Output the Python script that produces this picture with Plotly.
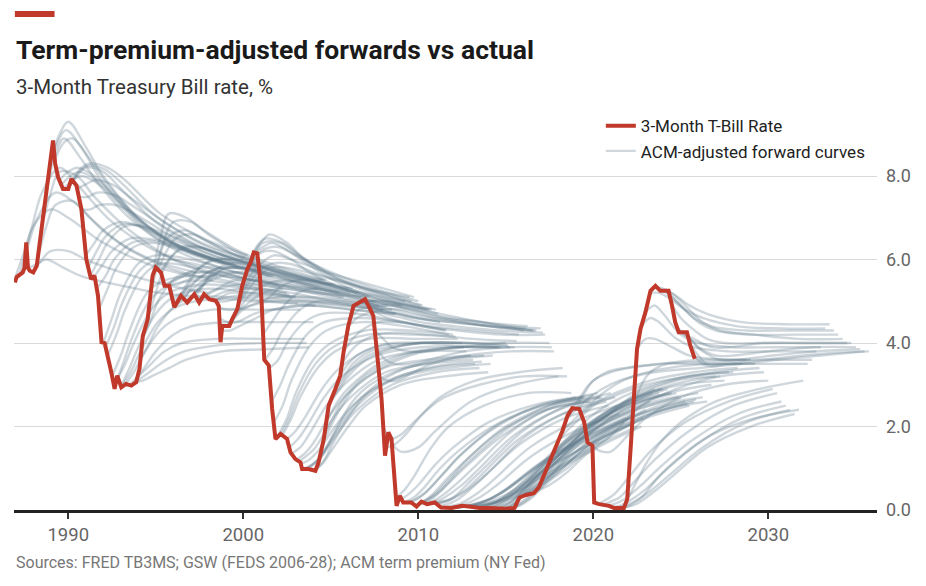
import plotly.graph_objects as go

# ------------------------------------------------------------
# data
# ------------------------------------------------------------

TBILL_DATE = [
    1986.95, 1987.05, 1987.4, 1987.5, 1987.6, 1987.7, 1987.8, 1988.0, 1988.2, 1988.55,
    1988.85, 1989.13, 1989.25, 1989.42, 1989.7, 1990.0, 1990.18, 1990.47, 1990.75, 1991.03,
    1991.3, 1991.5, 1991.7, 1991.9, 1992.08, 1992.26, 1992.46, 1992.65, 1992.8, 1993.03,
    1993.3, 1993.6, 1993.88, 1994.07, 1994.26, 1994.54, 1994.82, 1995.0, 1995.3, 1995.5,
    1995.77, 1996.06, 1996.44, 1996.8, 1997.2, 1997.48, 1997.76, 1998.05, 1998.43, 1998.6,
    1998.7, 1998.8, 1999.2, 1999.37, 1999.66, 1999.94, 2000.23, 2000.42, 2000.6, 2000.8,
    2000.95, 2001.05, 2001.2, 2001.46, 2001.65, 2001.84, 2002.13, 2002.5, 2002.7, 2002.98,
    2003.27, 2003.36, 2003.74, 2004.12, 2004.3, 2004.6, 2004.88, 2005.26, 2005.54, 2005.73,
    2006.0, 2006.3, 2006.68, 2006.96, 2007.25, 2007.43, 2007.62, 2007.9, 2008.1, 2008.29,
    2008.47, 2008.76, 2008.95, 2009.14, 2009.6, 2009.9, 2010.18, 2010.5, 2010.94, 2011.3,
    2011.9, 2012.5, 2013.0, 2013.5, 2014.0, 2014.5, 2015.0, 2015.5, 2015.78, 2016.16,
    2016.6, 2016.9, 2017.2, 2017.39, 2017.67, 2017.96, 2018.24, 2018.53, 2018.8, 2019.2,
    2019.48, 2019.67, 2019.95, 2020.05, 2020.33, 2020.9, 2021.18, 2021.75, 2021.94, 2022.13,
    2022.32, 2022.5, 2022.7, 2022.98, 2023.27, 2023.55, 2023.83, 2024.3, 2024.5, 2024.68,
    2024.88, 2025.35, 2025.54, 2025.8,
]
TBILL_RATE = [
    5.45, 5.58, 5.69, 5.8, 6.41, 5.8, 5.73, 5.69, 5.85, 6.97,
    7.85, 8.85, 8.3, 7.97, 7.69, 7.69, 7.93, 7.77, 7.21, 6.01,
    5.53, 5.61, 5.13, 4.02, 4.0, 3.7, 3.3, 2.9, 3.22, 2.94,
    3.02, 2.98, 3.06, 3.38, 4.17, 4.57, 5.61, 5.81, 5.69, 5.37,
    5.37, 4.86, 5.13, 4.97, 5.17, 4.97, 5.17, 5.05, 5.01, 4.89,
    4.02, 4.41, 4.41, 4.57, 4.81, 5.37, 5.77, 5.93, 6.17, 6.15,
    5.6, 4.97, 3.6, 3.46, 2.42, 1.7, 1.82, 1.7, 1.38, 1.22,
    1.14, 0.98, 0.98, 0.94, 1.14, 1.7, 2.5, 2.9, 3.22, 3.78,
    4.41, 4.89, 4.97, 5.05, 4.81, 4.65, 3.86, 2.66, 1.3, 1.86,
    1.7, 0.1, 0.34, 0.18, 0.18, 0.08, 0.2, 0.14, 0.18, 0.06,
    0.05, 0.1, 0.08, 0.05, 0.05, 0.03, 0.03, 0.05, 0.3, 0.36,
    0.4, 0.55, 0.85, 1.06, 1.3, 1.62, 1.9, 2.26, 2.44, 2.42,
    2.1, 1.62, 1.54, 0.18, 0.14, 0.1, 0.05, 0.05, 0.26, 1.46,
    2.9, 3.86, 4.34, 4.74, 5.25, 5.37, 5.25, 5.25, 4.89, 4.5,
    4.26, 4.26, 3.94, 3.62,
]

# forward curves: one start date each, values at the same horizons (years ahead)
FWD_HORIZON = [0, 0.5, 1, 2, 3, 5, 7.5, 10]
FWD_START = [
    1987.0, 1987.25, 1987.5, 1987.75, 1988.0, 1988.25, 1988.5, 1988.75,
    1989.0, 1989.25, 1989.5, 1989.75, 1990.0, 1990.25, 1990.5, 1990.75,
    1991.0, 1991.25, 1991.5, 1991.75, 1992.0, 1992.25, 1992.5, 1992.75,
    1993.0, 1993.25, 1993.5, 1993.75, 1994.0, 1994.25, 1994.5, 1994.75,
    1995.0, 1995.25, 1995.5, 1995.75, 1996.0, 1996.25, 1996.5, 1996.75,
    1997.0, 1997.25, 1997.5, 1997.75, 1998.0, 1998.25, 1998.5, 1998.75,
    1999.0, 1999.25, 1999.5, 1999.75, 2000.0, 2000.25, 2000.5, 2000.75,
    2001.0, 2001.25, 2001.5, 2001.75, 2002.0, 2002.25, 2002.5, 2002.75,
    2003.0, 2003.25, 2003.5, 2003.75, 2004.0, 2004.25, 2004.5, 2004.75,
    2005.0, 2005.25, 2005.5, 2005.75, 2006.0, 2006.25, 2006.5, 2006.75,
    2007.0, 2007.25, 2007.5, 2007.75, 2008.0, 2008.25, 2008.5, 2008.75,
    2009.0, 2009.25, 2009.5, 2009.75, 2010.0, 2010.25, 2010.5, 2010.75,
    2011.0, 2011.25, 2011.5, 2011.75, 2012.0, 2012.25, 2012.5, 2012.75,
    2013.0, 2013.25, 2013.5, 2013.75, 2014.0, 2014.25, 2014.5, 2014.75,
    2015.0, 2015.25, 2015.5, 2015.75, 2016.0, 2016.25, 2016.5, 2016.75,
    2017.0, 2017.25, 2017.5, 2017.75, 2018.0, 2018.25, 2018.5, 2018.75,
    2019.0, 2019.25, 2019.5, 2019.75, 2020.0, 2020.25, 2020.5, 2020.75,
    2021.0, 2021.25, 2021.5, 2021.75, 2022.0, 2022.25, 2022.5, 2022.75,
    2023.0, 2023.25, 2023.5, 2023.75, 2024.0, 2024.25, 2024.5, 2024.75,
    2025.0, 2025.25, 2025.5, 2025.75,
    # extra curves where the bundle is densest
    2009.375, 2009.875, 2010.375, 2010.875, 2011.375, 2011.875, 2012.375,
    2012.875, 2013.375, 2013.875, 2014.375, 2014.875, 2015.375, 2015.875,
    1995.125, 1995.625, 1996.125, 1996.625, 1997.125, 1997.625, 1998.125,
    1998.625, 1999.125, 1999.625, 2000.125, 2000.625, 2001.125, 2001.625,
    2002.125, 2002.625, 2003.125, 2003.625, 2004.125, 2004.625, 2005.125,
    2005.625, 2006.125, 2006.625, 2007.125, 2007.625,
    1988.875, 1989.625, 1990.125, 1990.625, 1991.125, 1991.625, 1992.125,
    1992.625, 1993.125, 1993.625, 1994.125, 1994.625,
]
FWD_VALUES = [
    [5.6, 6.2, 6.8, 7.2, 7.0, 6.4, 5.9, 5.6],
    [5.7, 6.4, 7.0, 7.6, 7.4, 6.6, 6.0, 5.7],
    [6.1, 6.9, 7.6, 8.2, 7.8, 6.9, 6.2, 5.8],
    [5.8, 5.9, 6.0, 5.8, 5.6, 5.4, 5.2, 5.1],
    [5.7, 6.0, 6.2, 6.2, 6.0, 5.7, 5.4, 5.2],
    [6.0, 6.8, 7.3, 7.4, 7.0, 6.3, 5.8, 5.5],
    [6.8, 7.6, 8.1, 8.0, 7.5, 6.7, 6.0, 5.6],
    [7.6, 8.5, 8.9, 8.4, 7.8, 6.9, 6.2, 5.8],
    [8.4, 9.0, 9.3, 8.7, 8.0, 7.0, 6.3, 5.9],
    [8.4, 8.8, 8.9, 8.4, 7.8, 6.9, 6.2, 5.9],
    [7.9, 8.1, 8.2, 8.0, 7.6, 6.8, 6.2, 5.9],
    [7.7, 7.9, 8.0, 7.8, 7.4, 6.6, 6.1, 5.8],
    [7.7, 8.0, 8.2, 8.1, 7.7, 6.9, 6.3, 6.0],
    [7.9, 8.2, 8.3, 8.2, 7.9, 7.1, 6.5, 6.1],
    [7.7, 7.8, 7.9, 7.8, 7.5, 6.9, 6.3, 6.0],
    [7.2, 7.2, 7.3, 7.3, 7.1, 6.6, 6.1, 5.8],
    [6.1, 6.4, 6.7, 6.9, 6.8, 6.4, 6.0, 5.7],
    [5.6, 6.0, 6.4, 6.8, 6.8, 6.5, 6.1, 5.8],
    [5.6, 5.9, 6.2, 6.5, 6.5, 6.3, 5.9, 5.6],
    [4.8, 5.3, 5.8, 6.3, 6.4, 6.2, 5.9, 5.6],
    [4.0, 4.6, 5.2, 5.9, 6.1, 6.0, 5.7, 5.4],
    [3.7, 4.2, 4.8, 5.6, 5.9, 5.8, 5.5, 5.3],
    [3.2, 3.7, 4.3, 5.2, 5.5, 5.6, 5.4, 5.2],
    [3.1, 3.5, 4.0, 4.8, 5.2, 5.4, 5.3, 5.1],
    [2.95, 3.4, 3.9, 4.7, 5.1, 5.3, 5.2, 5.1],
    [3.0, 3.3, 3.7, 4.3, 4.6, 4.8, 4.8, 4.8],
    [3.0, 3.2, 3.4, 3.8, 4.0, 4.1, 4.1, 4.1],
    [3.05, 3.1, 3.2, 3.4, 3.6, 3.8, 3.85, 3.9],
    [3.2, 3.5, 3.8, 4.2, 4.4, 4.5, 4.5, 4.5],
    [4.1, 4.6, 5.1, 5.6, 5.7, 5.6, 5.4, 5.3],
    [4.5, 5.2, 5.8, 6.3, 6.3, 6.0, 5.7, 5.5],
    [5.5, 6.5, 7.1, 7.0, 6.7, 6.2, 5.8, 5.5],
    [5.8, 6.5, 6.9, 6.9, 6.6, 6.1, 5.7, 5.4],
    [5.7, 6.0, 6.2, 6.3, 6.2, 5.9, 5.6, 5.4],
    [5.4, 5.5, 5.6, 5.8, 5.8, 5.6, 5.4, 5.2],
    [5.4, 5.4, 5.5, 5.6, 5.6, 5.5, 5.3, 5.1],
    [5.0, 5.2, 5.4, 5.7, 5.8, 5.7, 5.5, 5.3],
    [5.0, 5.4, 5.7, 6.0, 6.0, 5.8, 5.5, 5.3],
    [5.1, 5.5, 5.8, 6.0, 6.0, 5.8, 5.5, 5.2],
    [5.0, 5.2, 5.4, 5.6, 5.7, 5.6, 5.3, 5.1],
    [5.1, 5.3, 5.5, 5.8, 5.8, 5.6, 5.3, 5.1],
    [5.1, 5.4, 5.7, 5.9, 5.9, 5.7, 5.4, 5.1],
    [5.0, 5.2, 5.3, 5.5, 5.5, 5.4, 5.2, 5.0],
    [5.1, 5.1, 5.2, 5.3, 5.3, 5.2, 5.0, 4.9],
    [5.05, 5.0, 5.0, 5.1, 5.1, 5.0, 4.9, 4.8],
    [5.0, 5.1, 5.2, 5.2, 5.2, 5.1, 5.0, 4.9],
    [4.9, 4.8, 4.8, 4.9, 5.0, 5.0, 4.9, 4.8],
    [4.3, 4.3, 4.4, 4.6, 4.8, 4.9, 4.8, 4.7],
    [4.4, 4.6, 4.8, 5.0, 5.1, 5.1, 5.0, 4.9],
    [4.5, 4.8, 5.1, 5.4, 5.5, 5.4, 5.2, 5.0],
    [4.7, 5.1, 5.4, 5.8, 5.8, 5.6, 5.3, 5.1],
    [5.0, 5.5, 5.8, 6.1, 6.0, 5.7, 5.4, 5.1],
    [5.4, 5.9, 6.2, 6.3, 6.1, 5.7, 5.3, 5.0],
    [5.8, 6.3, 6.5, 6.4, 6.1, 5.6, 5.2, 4.9],
    [6.1, 6.4, 6.6, 6.4, 6.0, 5.5, 5.1, 4.8],
    [6.1, 6.2, 6.2, 6.0, 5.7, 5.3, 5.0, 4.8],
    [5.0, 5.1, 5.3, 5.5, 5.5, 5.3, 5.0, 4.8],
    [3.6, 3.9, 4.3, 4.8, 5.0, 4.9, 4.7, 4.5],
    [3.4, 3.6, 4.0, 4.5, 4.7, 4.7, 4.5, 4.3],
    [2.1, 2.5, 3.1, 3.9, 4.3, 4.5, 4.4, 4.2],
    [1.8, 2.2, 2.8, 3.6, 4.0, 4.3, 4.3, 4.2],
    [1.8, 2.2, 2.7, 3.4, 3.8, 4.1, 4.1, 4.1],
    [1.7, 1.9, 2.2, 2.9, 3.4, 3.9, 4.0, 4.0],
    [1.35, 1.5, 1.8, 2.5, 3.0, 3.6, 3.8, 3.8],
    [1.2, 1.35, 1.6, 2.3, 2.8, 3.4, 3.6, 3.7],
    [1.1, 1.2, 1.4, 2.0, 2.5, 3.1, 3.4, 3.5],
    [1.0, 1.1, 1.3, 1.9, 2.4, 3.0, 3.3, 3.4],
    [1.0, 1.2, 1.5, 2.2, 2.7, 3.3, 3.6, 3.7],
    [0.95, 1.1, 1.4, 2.0, 2.5, 3.0, 3.2, 3.3],
    [1.1, 1.5, 1.9, 2.6, 3.0, 3.4, 3.6, 3.7],
    [1.6, 2.0, 2.4, 3.0, 3.3, 3.7, 3.9, 3.9],
    [2.1, 2.5, 2.8, 3.2, 3.5, 3.8, 3.9, 3.9],
    [2.6, 2.9, 3.2, 3.6, 3.8, 4.0, 4.0, 4.0],
    [2.9, 3.2, 3.5, 3.8, 3.9, 4.0, 4.0, 3.9],
    [3.2, 3.5, 3.7, 3.9, 4.0, 4.0, 3.9, 3.9],
    [3.8, 4.1, 4.3, 4.5, 4.5, 4.4, 4.3, 4.2],
    [4.4, 4.6, 4.7, 4.8, 4.8, 4.6, 4.5, 4.3],
    [4.8, 5.0, 5.0, 5.0, 4.9, 4.7, 4.5, 4.4],
    [4.95, 5.0, 5.0, 4.9, 4.8, 4.6, 4.4, 4.3],
    [5.0, 4.9, 4.8, 4.7, 4.6, 4.5, 4.4, 4.3],
    [5.0, 4.9, 4.8, 4.7, 4.6, 4.5, 4.4, 4.35],
    [4.8, 4.7, 4.6, 4.5, 4.4, 4.3, 4.2, 4.2],
    [4.3, 4.1, 3.9, 3.8, 3.8, 3.9, 4.0, 4.0],
    [3.2, 3.1, 3.1, 3.3, 3.5, 3.7, 3.8, 3.8],
    [2.0, 1.6, 1.4, 1.5, 1.9, 2.6, 3.0, 3.2],
    [1.5, 1.6, 1.8, 2.3, 2.7, 3.1, 3.3, 3.4],
    [1.7, 1.8, 2.0, 2.4, 2.7, 3.0, 3.2, 3.2],
    [0.3, 0.5, 0.8, 1.5, 2.0, 2.5, 2.8, 2.8],
    [0.25, 0.4, 0.6, 1.1, 1.5, 2.1, 2.5, 2.7],
    [0.2, 0.3, 0.5, 1.0, 1.4, 2.0, 2.45, 2.65],
    [0.18, 0.3, 0.45, 0.9, 1.35, 2.0, 2.5, 2.7],
    [0.12, 0.2, 0.35, 0.8, 1.2, 1.9, 2.4, 2.6],
    [0.15, 0.25, 0.4, 0.85, 1.3, 2.0, 2.5, 2.75],
    [0.18, 0.3, 0.45, 0.9, 1.3, 2.0, 2.55, 2.8],
    [0.15, 0.2, 0.3, 0.6, 1.0, 1.8, 2.4, 2.7],
    [0.15, 0.2, 0.25, 0.5, 0.9, 1.7, 2.3, 2.6],
    [0.15, 0.2, 0.3, 0.7, 1.1, 1.9, 2.5, 2.8],
    [0.1, 0.15, 0.25, 0.6, 1.0, 1.8, 2.4, 2.7],
    [0.05, 0.08, 0.12, 0.3, 0.6, 1.3, 1.9, 2.3],
    [0.05, 0.06, 0.1, 0.2, 0.4, 1.0, 1.6, 2.1],
    [0.05, 0.07, 0.1, 0.25, 0.5, 1.1, 1.7, 2.2],
    [0.08, 0.1, 0.15, 0.3, 0.55, 1.2, 1.8, 2.3],
    [0.1, 0.1, 0.12, 0.22, 0.4, 0.9, 1.5, 2.0],
    [0.1, 0.1, 0.12, 0.2, 0.35, 0.9, 1.5, 2.0],
    [0.08, 0.1, 0.14, 0.3, 0.55, 1.2, 1.9, 2.4],
    [0.06, 0.1, 0.15, 0.35, 0.7, 1.4, 2.1, 2.6],
    [0.05, 0.1, 0.2, 0.5, 0.9, 1.7, 2.4, 2.9],
    [0.05, 0.1, 0.2, 0.5, 0.9, 1.7, 2.4, 2.8],
    [0.05, 0.1, 0.2, 0.55, 1.0, 1.8, 2.5, 2.9],
    [0.04, 0.1, 0.2, 0.6, 1.0, 1.8, 2.5, 2.9],
    [0.03, 0.1, 0.25, 0.7, 1.1, 1.9, 2.5, 2.8],
    [0.03, 0.1, 0.3, 0.8, 1.2, 1.9, 2.5, 2.8],
    [0.03, 0.15, 0.35, 0.8, 1.2, 1.9, 2.4, 2.7],
    [0.03, 0.15, 0.3, 0.7, 1.1, 1.8, 2.3, 2.6],
    [0.05, 0.15, 0.3, 0.7, 1.0, 1.7, 2.2, 2.5],
    [0.3, 0.4, 0.55, 0.9, 1.2, 1.8, 2.3, 2.6],
    [0.35, 0.5, 0.7, 1.2, 1.6, 2.2, 2.6, 2.8],
    [0.4, 0.5, 0.65, 1.0, 1.4, 2.0, 2.5, 2.7],
    [0.4, 0.5, 0.6, 0.9, 1.3, 1.9, 2.4, 2.6],
    [0.5, 0.7, 0.9, 1.4, 1.8, 2.4, 2.8, 3.0],
    [0.7, 0.9, 1.1, 1.6, 2.0, 2.6, 3.0, 3.2],
    [0.9, 1.1, 1.3, 1.8, 2.2, 2.7, 3.1, 3.2],
    [1.15, 1.3, 1.5, 1.9, 2.2, 2.7, 3.0, 3.1],
    [1.35, 1.6, 1.8, 2.2, 2.5, 2.9, 3.2, 3.3],
    [1.65, 1.9, 2.1, 2.5, 2.7, 3.0, 3.2, 3.3],
    [1.9, 2.1, 2.3, 2.6, 2.8, 3.1, 3.3, 3.4],
    [2.2, 2.4, 2.6, 2.9, 3.1, 3.3, 3.4, 3.5],
    [2.4, 2.7, 3.0, 3.3, 3.4, 3.5, 3.6, 3.6],
    [2.42, 2.8, 3.1, 3.3, 3.4, 3.5, 3.55, 3.6],
    [2.35, 2.5, 2.7, 3.0, 3.2, 3.4, 3.5, 3.5],
    [2.0, 2.1, 2.2, 2.5, 2.8, 3.1, 3.3, 3.4],
    [1.6, 1.6, 1.7, 2.1, 2.5, 2.9, 3.2, 3.3],
    [1.5, 1.4, 1.4, 1.8, 2.2, 2.7, 3.0, 3.1],
    [0.14, 0.25, 0.4, 0.9, 1.4, 2.1, 2.6, 2.9],
    [0.12, 0.2, 0.3, 0.75, 1.2, 1.9, 2.5, 2.8],
    [0.1, 0.15, 0.25, 0.6, 1.0, 1.7, 2.3, 2.6],
    [0.07, 0.1, 0.2, 0.5, 0.9, 1.6, 2.2, 2.5],
    [0.05, 0.1, 0.18, 0.45, 0.8, 1.5, 2.1, 2.4],
    [0.05, 0.08, 0.15, 0.45, 0.8, 1.5, 2.0, 2.3],
    [0.05, 0.15, 0.3, 0.8, 1.2, 1.8, 2.2, 2.4],
    [0.3, 0.7, 1.1, 1.7, 2.1, 2.6, 2.9, 3.1],
    [2.4, 3.0, 3.3, 3.5, 3.5, 3.5, 3.5, 3.5],
    [3.86, 4.1, 4.1, 3.9, 3.7, 3.6, 3.6, 3.6],
    [4.4, 4.6, 4.5, 4.1, 3.9, 3.8, 3.8, 3.8],
    [4.75, 4.9, 4.7, 4.2, 4.0, 3.9, 3.9, 3.9],
    [5.2, 5.2, 5.1, 4.8, 4.6, 4.4, 4.35, 4.35],
    [5.35, 5.3, 5.2, 4.9, 4.7, 4.5, 4.45, 4.45],
    [5.28, 5.2, 5.0, 4.6, 4.4, 4.3, 4.3, 4.3],
    [5.25, 5.1, 4.9, 4.5, 4.3, 4.2, 4.2, 4.2],
    [5.25, 5.1, 4.9, 4.5, 4.3, 4.2, 4.1, 4.1],
    [4.9, 4.6, 4.4, 4.1, 4.0, 4.0, 4.0, 4.0],
    [4.4, 4.2, 4.1, 3.9, 3.9, 4.0, 4.0, 4.0],
    [4.26, 4.1, 3.9, 3.7, 3.7, 3.8, 3.9, 3.9],
    [4.26, 4.0, 3.8, 3.6, 3.6, 3.7, 3.8, 3.85],
    [4.0, 3.7, 3.5, 3.5, 3.5, 3.6, 3.7, 3.8],
    [3.7, 3.5, 3.45, 3.5, 3.55, 3.65, 3.75, 3.8],
    # extra curves 2009-2015
    [0.18, 0.25, 0.4, 0.85, 1.3, 2.0, 2.5, 2.7],
    [0.1, 0.18, 0.3, 0.7, 1.1, 1.8, 2.4, 2.6],
    [0.15, 0.22, 0.35, 0.7, 1.1, 1.9, 2.5, 2.7],
    [0.15, 0.18, 0.25, 0.5, 0.85, 1.6, 2.2, 2.5],
    [0.06, 0.1, 0.15, 0.4, 0.75, 1.5, 2.1, 2.5],
    [0.05, 0.06, 0.1, 0.22, 0.45, 1.1, 1.7, 2.2],
    [0.09, 0.1, 0.13, 0.25, 0.45, 1.0, 1.6, 2.1],
    [0.09, 0.1, 0.13, 0.25, 0.45, 1.1, 1.7, 2.2],
    [0.05, 0.1, 0.18, 0.45, 0.8, 1.6, 2.3, 2.8],
    [0.05, 0.1, 0.2, 0.55, 1.0, 1.8, 2.5, 2.9],
    [0.03, 0.1, 0.22, 0.65, 1.05, 1.85, 2.5, 2.8],
    [0.03, 0.12, 0.32, 0.8, 1.2, 1.9, 2.4, 2.7],
    [0.04, 0.15, 0.3, 0.7, 1.05, 1.75, 2.25, 2.55],
    [0.32, 0.45, 0.6, 1.0, 1.35, 1.95, 2.4, 2.65],
    # extra curves 1995-2007
    [5.75, 6.2, 6.5, 6.6, 6.4, 6.0, 5.6, 5.4],
    [5.4, 5.5, 5.6, 5.7, 5.7, 5.5, 5.3, 5.1],
    [4.9, 5.1, 5.3, 5.6, 5.7, 5.6, 5.4, 5.2],
    [5.05, 5.4, 5.6, 5.8, 5.8, 5.7, 5.4, 5.2],
    [5.15, 5.4, 5.6, 5.8, 5.8, 5.6, 5.3, 5.1],
    [5.05, 5.2, 5.3, 5.4, 5.4, 5.3, 5.1, 5.0],
    [5.05, 5.05, 5.1, 5.15, 5.15, 5.05, 4.95, 4.85],
    [4.6, 4.5, 4.5, 4.7, 4.8, 4.9, 4.8, 4.7],
    [4.4, 4.7, 4.9, 5.2, 5.3, 5.2, 5.1, 4.9],
    [4.8, 5.3, 5.6, 5.9, 5.9, 5.6, 5.3, 5.0],
    [5.6, 6.1, 6.4, 6.4, 6.1, 5.6, 5.2, 4.9],
    [6.15, 6.3, 6.4, 6.2, 5.9, 5.4, 5.0, 4.8],
    [4.2, 4.5, 4.8, 5.2, 5.3, 5.1, 4.9, 4.7],
    [2.6, 3.0, 3.5, 4.2, 4.5, 4.6, 4.5, 4.3],
    [1.8, 2.2, 2.75, 3.5, 3.9, 4.2, 4.2, 4.15],
    [1.5, 1.7, 2.0, 2.7, 3.2, 3.7, 3.9, 3.9],
    [1.15, 1.3, 1.5, 2.2, 2.7, 3.3, 3.5, 3.6],
    [1.0, 1.15, 1.4, 2.05, 2.55, 3.15, 3.45, 3.55],
    [0.95, 1.2, 1.6, 2.3, 2.8, 3.2, 3.4, 3.5],
    [1.8, 2.2, 2.6, 3.1, 3.4, 3.75, 3.9, 3.9],
    [2.75, 3.05, 3.35, 3.7, 3.85, 4.0, 4.0, 3.95],
    [3.5, 3.8, 4.0, 4.2, 4.25, 4.2, 4.1, 4.05],
    [4.6, 4.8, 4.85, 4.9, 4.85, 4.65, 4.5, 4.35],
    [4.97, 4.95, 4.9, 4.8, 4.7, 4.55, 4.4, 4.3],
    [4.9, 4.8, 4.7, 4.6, 4.5, 4.4, 4.3, 4.25],
    [3.86, 3.6, 3.5, 3.5, 3.6, 3.8, 3.9, 3.9],
    # extra curves 1988-1994
    [8.1, 8.8, 9.1, 8.6, 7.9, 7.0, 6.3, 5.9],
    [7.8, 8.0, 8.1, 7.9, 7.5, 6.7, 6.15, 5.85],
    [7.8, 8.1, 8.25, 8.15, 7.8, 7.0, 6.4, 6.05],
    [7.5, 7.5, 7.6, 7.55, 7.3, 6.75, 6.2, 5.9],
    [5.8, 6.2, 6.55, 6.85, 6.8, 6.45, 6.05, 5.75],
    [5.3, 5.6, 6.0, 6.4, 6.45, 6.25, 5.9, 5.6],
    [3.9, 4.4, 5.0, 5.75, 6.0, 5.9, 5.6, 5.35],
    [2.95, 3.5, 4.1, 5.0, 5.35, 5.5, 5.35, 5.15],
    [3.0, 3.35, 3.8, 4.5, 4.85, 5.05, 5.0, 4.95],
    [3.0, 3.15, 3.3, 3.6, 3.8, 3.95, 4.0, 4.0],
    [3.6, 4.0, 4.4, 4.9, 5.1, 5.1, 5.0, 4.9],
    [5.0, 5.9, 6.5, 6.7, 6.5, 6.1, 5.75, 5.5],
]

X_TICKS = [1990, 2000, 2010, 2020, 2030]
Y_TICKS = [0, 2, 4, 6, 8]

RED = "#c0392b"
SLATE = "rgba(96,123,138,0.30)"
FONT = "Roboto"

# ------------------------------------------------------------
# figure
# ------------------------------------------------------------

fig = go.Figure()

for i, (start, vals) in enumerate(zip(FWD_START, FWD_VALUES)):
    fig.add_trace(go.Scatter(
        x=[start + h for h in FWD_HORIZON],
        y=vals,
        mode="lines",
        line=dict(color=SLATE, width=2.4, shape="spline", smoothing=1.0),
        name="ACM-adjusted forward curves",
        legendgroup="fwd",
        legendrank=2,
        showlegend=(i == 0),
        hoverinfo="skip",
    ))

fig.add_trace(go.Scatter(
    x=TBILL_DATE,
    y=TBILL_RATE,
    mode="lines",
    line=dict(color=RED, width=4),
    name="3-Month T-Bill Rate",
    legendrank=1,
))

# page body adds an 8px margin, so the figure is 8px smaller than the window
fig.update_layout(
    width=918,
    height=578,
    margin=dict(l=6, r=49, t=105, b=76),
    paper_bgcolor="white",
    plot_bgcolor="white",
    font=dict(family=FONT, color="#333333"),
    showlegend=True,
    legend=dict(
        x=0.680, y=1.012, xanchor="left", yanchor="top",
        bgcolor="rgba(0,0,0,0)",
        font=dict(size=17, color="#222222"),
        tracegroupgap=0,
        itemwidth=30,
    ),
    xaxis=dict(
        range=[1986.9, 2036.21],
        tickvals=X_TICKS,
        ticktext=[str(v) for v in X_TICKS],
        showgrid=False,
        zeroline=False,
        showline=True,
        linecolor="#222222",
        linewidth=2.5,
        ticks="outside",
        ticklen=6,
        tickwidth=2,
        tickcolor="#333333",
        tickfont=dict(size=18.5, color="#666666"),
    ),
    yaxis=dict(
        range=[0, 9.51],
        side="right",
        tickvals=Y_TICKS,
        tickformat=".1f",
        showgrid=True,
        gridcolor="#d9d9d9",
        gridwidth=1,
        zeroline=False,
        showline=False,
        ticks="",
        ticklabelstandoff=8,
        tickfont=dict(size=18, color="#666666"),
    ),
    shapes=[dict(
        type="rect", xref="paper", yref="paper",
        x0=0.001, x1=0.047, y0=1.2418, y1=1.2569,
        fillcolor=RED, line=dict(width=0),
    )],
    annotations=[
        dict(text="<b>Term-premium-adjusted forwards vs actual</b>",
             xref="paper", yref="paper", x=0.0, y=1.1587,
             xanchor="left", yanchor="middle", showarrow=False,
             font=dict(size=26.5, color="#1a1a1a")),
        dict(text="3-Month Treasury Bill rate, %",
             xref="paper", yref="paper", x=0.0, y=1.0655,
             xanchor="left", yanchor="middle", showarrow=False,
             font=dict(size=20.5, color="#333333")),
        dict(text="Sources: FRED TB3MS; GSW (FEDS 2006-28); ACM term premium (NY Fed)",
             xref="paper", yref="paper", x=0.0, y=-0.1335,
             xanchor="left", yanchor="middle", showarrow=False,
             font=dict(size=16, color="#777777")),
    ],
)

fig.write_html("out.html")
